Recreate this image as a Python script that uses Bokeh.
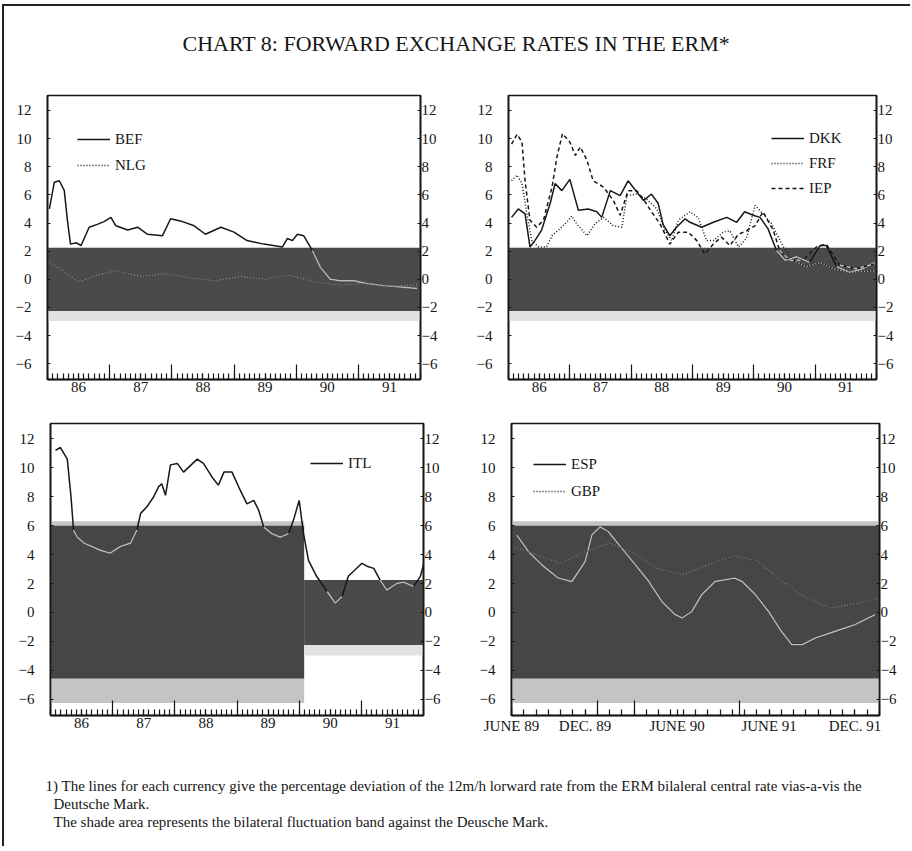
import numpy as np
from bokeh.plotting import figure
from bokeh.models import Range1d, LinearAxis, FixedTicker, Legend, LegendItem, Label, Spacer
from bokeh.layouts import row, column
from bokeh.embed import file_html
from bokeh.resources import INLINE

FONT = "Liberation Serif"
INK = "#161616"
GHOST = "#bdbdbd"

# ---------------- texts ----------------
title_text = "CHART 8: FORWARD EXCHANGE RATES IN THE ERM*"
note_lines = [
    "1) The lines for each currency give the percentage deviation of the 12m/h lorward rate from the ERM bilaleral central rate vias-a-vis the",
    "Deutsche Mark.",
    "The shade area represents the bilateral fluctuation band against the Deusche Mark.",
]

# ---------------- ticks ----------------
y_ticks = [-6, -4, -2, 0, 2, 4, 6, 8, 10, 12]
year_label_pos = [1986.5, 1987.5, 1988.5, 1989.5, 1990.5, 1991.5]
year_labels = ["86", "87", "88", "89", "90", "91"]
year_bounds = [1987, 1988, 1989, 1990, 1991]
month_ticks = [1986 + i / 12 for i in range(73)]

br_label_pos = [0, 6, 13.5, 21, 28]
br_labels = ["JUNE 89", "DEC. 89", "JUNE 90", "JUNE 91", "DEC. 91"]
br_long_ticks = [7, 10, 18.6]
br_month_ticks = list(range(31))

# ---------------- bands (% around central rate) ----------------
band_narrow = dict(x0=[1986.0], x1=[1992.0], lo=[-2.25], hi=[2.25])
band_itl = dict(x0=[1986.0, 1990.08], x1=[1990.08, 1992.0], lo=[-6.0, -2.25], hi=[6.0, 2.25])
band_wide = dict(x0=[0], x1=[30], lo=[-6.0], hi=[6.0])

# ---------------- series ----------------
bef_t = [1986.03, 1986.11, 1986.19, 1986.27, 1986.32, 1986.37, 1986.46, 1986.54, 1986.67, 1986.80,
         1986.91, 1987.02, 1987.10, 1987.29, 1987.45, 1987.61, 1987.85, 1987.98, 1988.17, 1988.36,
         1988.54, 1988.79, 1989.00, 1989.21, 1989.48, 1989.78, 1989.86, 1989.94, 1990.02, 1990.12,
         1990.26, 1990.39, 1990.55, 1990.71, 1990.93, 1991.14, 1991.41, 1991.68, 1991.95]
bef_v = [5.0, 6.9, 7.0, 6.3, 4.2, 2.5, 2.6, 2.4, 3.7, 3.9,
         4.1, 4.4, 3.8, 3.5, 3.7, 3.2, 3.1, 4.3, 4.1, 3.8,
         3.2, 3.7, 3.35, 2.75, 2.5, 2.3, 2.9, 2.75, 3.2, 3.1,
         2.05, 0.85, 0.0, -0.1, -0.1, -0.3, -0.45, -0.55, -0.65]

nlg_t = [1986.03, 1986.25, 1986.5, 1986.8, 1987.1, 1987.5, 1987.9, 1988.3, 1988.7,
         1989.1, 1989.5, 1989.9, 1990.3, 1990.7, 1991.1, 1991.5, 1991.95]
nlg_v = [1.2, 0.6, -0.2, 0.3, 0.6, 0.2, 0.4, 0.1, -0.1, 0.2, 0.0, 0.3, -0.2, -0.4, -0.3, -0.5, -0.4]

dkk_t = [1986.05, 1986.16, 1986.27, 1986.35, 1986.43, 1986.54, 1986.68, 1986.76, 1986.87, 1987.00,
         1987.14, 1987.30, 1987.44, 1987.52, 1987.66, 1987.82, 1987.95, 1988.12, 1988.20, 1988.33,
         1988.44, 1988.52, 1988.63, 1988.74, 1988.88, 1988.96, 1989.15, 1989.34, 1989.56, 1989.72,
         1989.85, 1989.99, 1990.10, 1990.23, 1990.37, 1990.51, 1990.70, 1990.91, 1991.08, 1991.18,
         1991.35, 1991.56, 1991.78, 1991.97]
dkk_v = [4.4, 5.0, 4.65, 2.3, 2.75, 3.5, 5.4, 6.8, 6.3, 7.1,
         4.9, 5.0, 4.8, 4.4, 6.3, 5.95, 7.0, 6.05, 5.6, 6.05,
         5.4, 3.9, 3.1, 3.7, 4.3, 4.05, 3.7, 4.05, 4.4, 4.05,
         4.8, 4.55, 4.4, 3.6, 2.05, 1.35, 1.6, 1.2, 2.4, 2.4,
         0.9, 0.5, 0.75, 1.2]

frf_t = [1986.05, 1986.14, 1986.22, 1986.30, 1986.38, 1986.49, 1986.62, 1986.71, 1986.84, 1986.98,
         1987.03, 1987.11, 1987.28, 1987.41, 1987.55, 1987.71, 1987.85, 1987.93, 1988.09, 1988.25,
         1988.42, 1988.55, 1988.66, 1988.77, 1988.96, 1989.09, 1989.23, 1989.34, 1989.50, 1989.61,
         1989.75, 1989.88, 1990.02, 1990.15, 1990.29, 1990.48, 1990.64, 1990.86, 1991.08, 1991.29,
         1991.56, 1991.97]
frf_v = [7.0, 7.4, 6.8, 4.65, 2.75, 2.3, 2.3, 3.1, 3.6, 4.2,
         4.5, 3.95, 3.1, 3.95, 4.4, 3.8, 3.7, 5.95, 6.05, 5.7,
         5.0, 3.5, 2.75, 4.2, 4.8, 4.4, 2.75, 2.75, 3.35, 3.45,
         2.3, 2.9, 5.25, 4.65, 3.95, 2.3, 1.35, 0.9, 1.2, 0.75,
         0.5, 0.6]

iep_t = [1986.05, 1986.14, 1986.22, 1986.27, 1986.35, 1986.46, 1986.57, 1986.71, 1986.79, 1986.88,
         1987.00, 1987.09, 1987.17, 1987.28, 1987.38, 1987.55, 1987.71, 1987.82, 1987.95, 1988.09,
         1988.20, 1988.33, 1988.47, 1988.63, 1988.77, 1988.93, 1989.07, 1989.20, 1989.34, 1989.47,
         1989.61, 1989.75, 1989.88, 1990.02, 1990.15, 1990.32, 1990.42, 1990.59, 1990.80, 1991.02,
         1991.18, 1991.40, 1991.67, 1991.97]
iep_v = [9.6, 10.3, 9.75, 7.0, 4.2, 3.7, 4.2, 6.55, 8.7, 10.35,
         9.75, 8.8, 9.4, 8.45, 7.0, 6.55, 5.6, 4.55, 6.3, 6.3,
         5.7, 4.8, 3.95, 2.5, 3.35, 3.35, 2.75, 1.8, 2.5, 3.0,
         2.4, 3.2, 3.45, 3.8, 4.8, 3.45, 2.05, 1.35, 1.35, 2.3,
         2.5, 1.0, 0.75, 1.1]

itl_t = [1986.08, 1986.16, 1986.27, 1986.33, 1986.37, 1986.43, 1986.54, 1986.67, 1986.80, 1986.96,
         1987.12, 1987.29, 1987.39, 1987.45, 1987.55, 1987.66, 1987.74, 1987.79, 1987.85, 1987.93,
         1988.04, 1988.14, 1988.25, 1988.36, 1988.46, 1988.60, 1988.70, 1988.79, 1988.92, 1989.03,
         1989.16, 1989.27, 1989.35, 1989.43, 1989.56, 1989.70, 1989.83, 1989.91, 1990.00, 1990.07,
         1990.15, 1990.28, 1990.45, 1990.58, 1990.69, 1990.79, 1990.90, 1991.01, 1991.09, 1991.20,
         1991.30, 1991.41, 1991.57, 1991.68, 1991.84, 1991.95, 1992.0]
itl_v = [11.2, 11.4, 10.6, 8.0, 5.7, 5.2, 4.8, 4.55, 4.3, 4.1,
         4.55, 4.8, 5.7, 6.85, 7.3, 8.0, 8.7, 8.9, 8.1, 10.2,
         10.3, 9.7, 10.15, 10.6, 10.3, 9.35, 8.8, 9.7, 9.7, 8.65,
         7.5, 7.75, 7.05, 5.9, 5.45, 5.2, 5.45, 6.4, 7.75, 5.45,
         3.6, 2.5, 1.45, 0.65, 1.1, 2.5, 2.95, 3.4, 3.2, 3.05,
         2.25, 1.55, 2.0, 2.1, 1.8, 2.5, 3.3]

esp_m = [0.43, 1.39, 2.47, 3.83, 4.92, 6.0, 6.55, 7.23, 7.9, 9.0,
         10.1, 11.2, 12.25, 13.35, 13.9, 14.7, 15.5, 16.6, 18.2, 18.8,
         19.9, 20.95, 22.0, 22.85, 23.7, 24.8, 26.4, 28.0, 29.65]
esp_v = [5.35, 4.2, 3.29, 2.37, 2.14, 3.51, 5.35, 5.92, 5.58, 4.43,
         3.29, 2.14, 0.76, -0.15, -0.38, 0.07, 1.22, 2.14, 2.37, 2.14,
         1.22, 0.07, -1.3, -2.22, -2.22, -1.76, -1.3, -0.84, -0.15]

gbp_m = [0, 2, 4, 6, 8, 10, 12, 14, 16, 18, 20, 22, 24, 26, 28, 30]
gbp_v = [4.6, 4.0, 3.4, 4.2, 4.8, 4.1, 3.0, 2.6, 3.3, 3.9, 3.6, 2.2, 1.0, 0.3, 0.6, 1.0]

Y0, Y1 = -7.12, 13.06


def clean(p, bg="white"):
    p.grid.visible = False
    p.background_fill_color = bg
    p.border_fill_color = bg


def base_fig(w, h, left, right, top, bottom, x0, x1):
    p = figure(width=w, height=h, min_border_left=left, min_border_right=right,
               min_border_top=top, min_border_bottom=bottom,
               x_range=Range1d(x0, x1), y_range=Range1d(Y0, Y1),
               output_backend="svg", toolbar_location=None,
               x_axis_location=None, y_axis_location=None)
    clean(p)
    p.outline_line_color = INK
    p.outline_line_width = 1.6
    for side, standoff in (("left", 16), ("right", 1)):
        ax = LinearAxis(ticker=FixedTicker(ticks=y_ticks, minor_ticks=[]),
                        major_tick_in=3, major_tick_out=0, minor_tick_in=0, minor_tick_out=0,
                        axis_line_color=INK, axis_line_width=1.6, major_tick_line_color=INK,
                        major_label_standoff=standoff, major_label_text_font=FONT,
                        major_label_text_font_size="15px", major_label_text_color=INK)
        p.add_layout(ax, side)
    return p


def x_axes(p, long_ticks, short_ticks, label_pos, labels, size="15px"):
    # long ticks only (drawn as "minor" ticks so that this axis carries no labels)
    a = LinearAxis(ticker=FixedTicker(ticks=[], minor_ticks=long_ticks),
                   major_tick_in=0, major_tick_out=0, minor_tick_in=15, minor_tick_out=0,
                   major_label_standoff=0, axis_line_color=INK, axis_line_width=1.6,
                   minor_tick_line_color=INK, minor_tick_line_width=1.2)
    p.add_layout(a, "below")
    b = LinearAxis(ticker=FixedTicker(ticks=label_pos, minor_ticks=short_ticks),
                   major_label_overrides=dict(zip(label_pos, labels)),
                   major_tick_in=6, major_tick_out=0, minor_tick_in=6, minor_tick_out=0,
                   axis_line_color=INK, axis_line_width=1.6,
                   major_tick_line_color=INK, minor_tick_line_color=INK,
                   major_tick_line_width=1.2, minor_tick_line_width=1.2,
                   major_label_standoff=2, major_label_text_font=FONT,
                   major_label_text_font_size=size, major_label_text_color=INK)
    p.add_layout(b, "below")


def draw_band(p, band, wide):
    x0, x1, lo, hi = (np.asarray(band[k], float) for k in ("x0", "x1", "lo", "hi"))
    w = hi - lo
    if wide:
        p.quad(left=x0, right=x1, bottom=lo - 0.25, top=hi + 0.3, fill_color="#c4c4c4", line_color=None)
        p.quad(left=x0, right=x1, bottom=lo + 0.12 * w, top=hi, fill_color="#464646", line_color=None)
    else:
        p.quad(left=x0, right=x1, bottom=lo - 0.16 * w, top=hi, fill_color="#e2e2e2", line_color=None)
        p.quad(left=x0, right=x1, bottom=lo, top=hi, fill_color="#4a4a4a", line_color=None)


def inside(x, y, band):
    x = np.asarray(x, float)
    y = np.asarray(y, float)
    lo = np.full_like(x, np.nan)
    hi = np.full_like(x, np.nan)
    for a, b, l, h in zip(band["x0"], band["x1"], band["lo"], band["hi"]):
        sel = (x >= a) & (x <= b)
        lo[sel] = l
        hi[sel] = h
    return np.where((y >= lo) & (y <= hi), y, np.nan)


def series(p, x, y, band, dash="solid", ghost=GHOST):
    r = p.line(x, y, line_color=INK, line_width=1.5, line_dash=dash)
    p.line(x, inside(x, y, band), line_color=ghost, line_width=1.4, line_dash=dash)
    return r


def legend(p, pairs, loc, spacing):
    lg = Legend(items=[LegendItem(label=t, renderers=[r]) for t, r in pairs],
                location=loc, orientation="vertical",
                background_fill_alpha=0, border_line_alpha=0, padding=0, margin=0,
                spacing=spacing, glyph_width=33, glyph_height=20, label_height=20,
                label_standoff=5, label_text_font=FONT, label_text_font_size="15px",
                label_text_color=INK)
    p.add_layout(lg)


# ---------------- panels ----------------
p1 = base_fig(454, 325, 43, 38, 10, 31, 1986.0, 1992.0)
draw_band(p1, band_narrow, False)
r_bef = series(p1, bef_t, bef_v, band_narrow)
r_nlg = series(p1, nlg_t, nlg_v, band_narrow, "1 2", "#9a9a9a")
x_axes(p1, year_bounds, month_ticks, year_label_pos, year_labels)
legend(p1, [("BEF", r_bef), ("NLG", r_nlg)], (30, 204), 6)

p2 = base_fig(446, 325, 50, 28, 10, 31, 1986.0, 1992.0)
draw_band(p2, band_narrow, False)
r_dkk = series(p2, dkk_t, dkk_v, band_narrow)
r_frf = series(p2, frf_t, frf_v, band_narrow, "1 2")
r_iep = series(p2, iep_t, iep_v, band_narrow, "4 3")
x_axes(p2, year_bounds, month_ticks, year_label_pos, year_labels)
legend(p2, [("DKK", r_dkk), ("FRF", r_frf), ("IEP", r_iep)], (263, 181), 5)

p3 = base_fig(454, 330, 46, 35, 13, 25, 1986.0, 1992.0)
draw_band(p3, dict(x0=band_itl["x0"][:1], x1=band_itl["x1"][:1], lo=band_itl["lo"][:1], hi=band_itl["hi"][:1]), True)
draw_band(p3, dict(x0=band_itl["x0"][1:], x1=band_itl["x1"][1:], lo=band_itl["lo"][1:], hi=band_itl["hi"][1:]), False)
r_itl = series(p3, itl_t, itl_v, band_itl)
x_axes(p3, year_bounds, month_ticks, year_label_pos, year_labels)
legend(p3, [("ITL", r_itl)], (260, 242), 5)

p4 = base_fig(446, 330, 53, 25, 13, 25, 0, 30)
draw_band(p4, band_wide, True)
r_esp = series(p4, esp_m, esp_v, band_wide)
r_gbp = series(p4, gbp_m, gbp_v, band_wide, "1 2", "#8c8c8c")
x_axes(p4, br_long_ticks, br_month_ticks, br_label_pos, br_labels)
legend(p4, [("ESP", r_esp), ("GBP", r_gbp)], (22, 214), 7)


def plain_fig(w, h, bg="white"):
    p = figure(width=w, height=h, x_range=Range1d(0, 1), y_range=Range1d(0, 1), min_border=0,
               output_backend="svg", toolbar_location=None,
               x_axis_location=None, y_axis_location=None)
    clean(p, bg)
    p.outline_line_color = None
    return p


head = plain_fig(900, 79)
head.add_layout(Label(x=452, y=42, x_units="screen", y_units="screen", text=title_text,
                      text_align="center", text_baseline="middle", text_font=FONT,
                      text_font_size="22px", text_color=INK))

foot = plain_fig(900, 100)
for txt, xx, yy in zip(note_lines, [41, 49, 49], [55, 37, 19]):
    foot.add_layout(Label(x=xx, y=yy, x_units="screen", y_units="screen", text=txt,
                          text_align="left", text_baseline="middle", text_font=FONT,
                          text_font_size="15px", text_color=INK))

BAR = {"background-color": "#222222"}
top_bar = Spacer(width=908, height=2, styles=BAR)
left_bar = Spacer(width=2, height=840, styles=BAR)

body = column(head, row(p1, p2), row(p3, p4), foot)
layout = column(
    Spacer(width=900, height=4),
    row(Spacer(width=2, height=2), top_bar),
    row(Spacer(width=2, height=840), left_bar, body),
)

open("out.html", "w").write(file_html(layout, INLINE))
